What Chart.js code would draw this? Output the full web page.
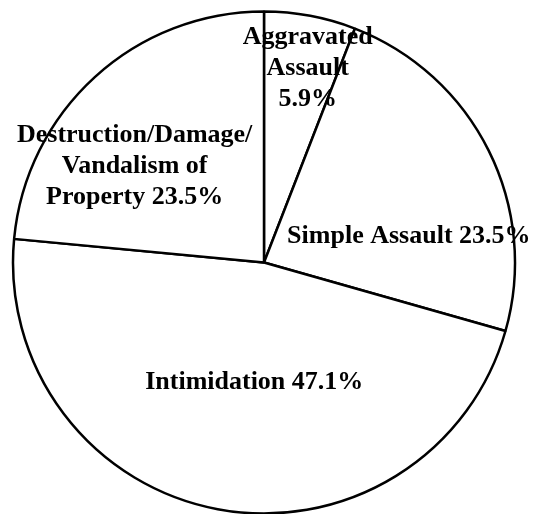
<!DOCTYPE html>
<html>
<head>
<meta charset="utf-8">
<script src="https://cdn.jsdelivr.net/npm/chart.js@4"></script>
<style>
  html, body { margin: 0; padding: 0; background: #fff; }
  #wrap { width: 533px; height: 514px; }
</style>
</head>
<body>
<div id="wrap"><canvas id="pieChart" width="533" height="514"></canvas></div>
<script>
// dados do gráfico
const categorias = ['Aggravated Assault', 'Simple Assault', 'Intimidation', 'Destruction/Damage/Vandalism of Property'];
const percentuais = [5.9, 23.5, 47.1, 23.5];
// texto de cada rótulo, linha por linha
const rotulos = [
    ['Aggravated', 'Assault', '5.9%'],
    ['Simple Assault 23.5%'],
    ['Intimidation 47.1%'],
    ['Destruction/Damage/', 'Vandalism of', 'Property 23.5%']
];

// ajuste fino dos rótulos (deslocamento a partir do ponto médio da fatia)
const ajustes = [[16, -46], [10, 41], [18, -28], [-28, 15]];

const rotulosPlugin = {
    id: 'rotulos',
    afterDatasetsDraw(chart) {
        const ctx = chart.ctx;
        const meta = chart.getDatasetMeta(0);
        ctx.save();
        ctx.fillStyle = '#000';
        ctx.font = 'bold 26px "Liberation Serif", "Times New Roman", serif';
        ctx.textAlign = 'center';
        ctx.textBaseline = 'middle';
        meta.data.forEach((arc, i) => {
            const p = arc.getProps(['x', 'y', 'startAngle', 'endAngle', 'outerRadius'], true);
            const meio = (p.startAngle + p.endAngle) / 2;
            const r = p.outerRadius * 0.6;
            const cx = p.x + Math.cos(meio) * r + ajustes[i][0];
            const cy = p.y + Math.sin(meio) * r + ajustes[i][1];
            const linhas = rotulos[i];
            const alt = 31;
            linhas.forEach((txt, k) => {
                ctx.fillText(txt, cx, cy + (k - (linhas.length - 1) / 2) * alt);
            });
        });
        ctx.restore();
    }
};

new Chart(document.getElementById('pieChart'), {
    type: 'pie',
    data: {
        labels: categorias,
        datasets: [{
            data: percentuais,
            backgroundColor: '#ffffff',
            borderColor: '#000000',
            borderWidth: 2.5
        }]
    },
    options: {
        responsive: false,
        animation: false,
        radius: 251,
        layout: { padding: { left: 0, right: 5, top: 11, bottom: 0 } },
        plugins: { legend: { display: false }, tooltip: { enabled: false } }
    },
    plugins: [rotulosPlugin]
});
</script>
</body>
</html>
